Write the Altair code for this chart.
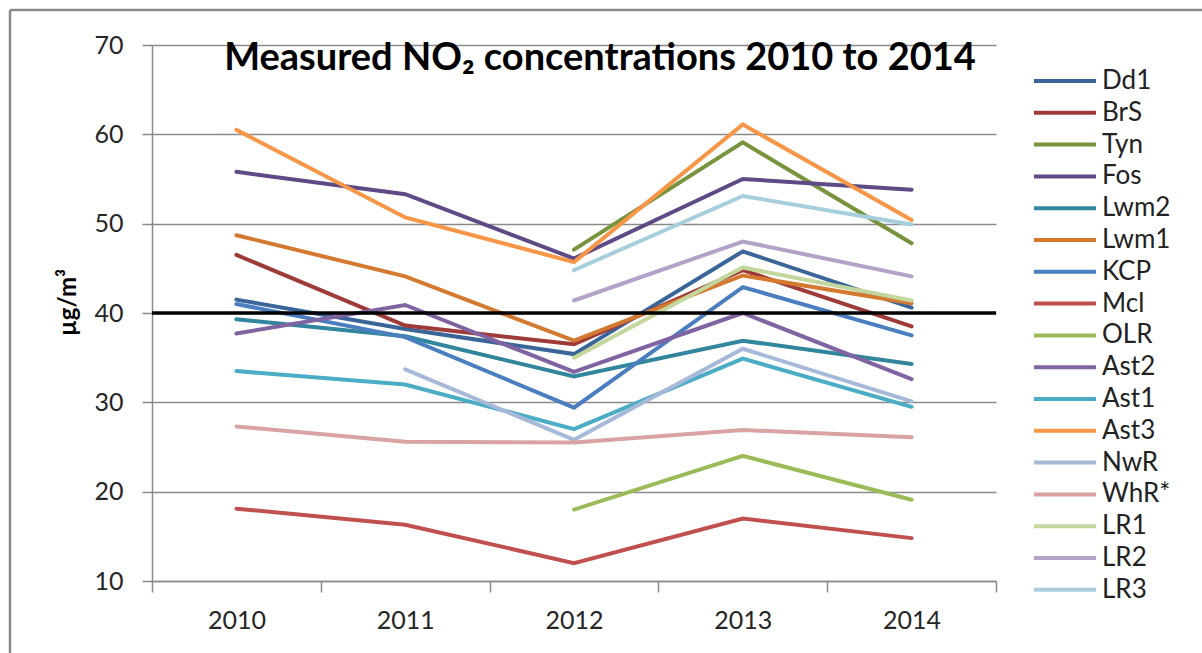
import altair as alt
import pandas as pd

years = [2010, 2011, 2012, 2013, 2014]
names = ["Dd1", "BrS", "Tyn", "Fos", "Lwm2", "Lwm1", "KCP", "Mcl", "OLR",
         "Ast2", "Ast1", "Ast3", "NwR", "WhR*", "LR1", "LR2", "LR3"]
colors = ["#3A6598", "#9E3B38", "#77933C", "#5F4A86", "#31859C", "#D47A30",
          "#4A7EBF", "#C0504D", "#9BBB59", "#8064A2", "#4BACC6", "#F79646",
          "#A7B9D8", "#D8A3A2", "#C3D69B", "#B3A2C7", "#A7CEDC"]

Dd1 = [41.5, 38.2, 35.4, 46.9, 40.6]
BrS = [46.5, 38.6, 36.5, 44.8, 38.5]
Tyn = [None, None, 47.1, 59.1, 47.8]
Fos = [55.8, 53.3, 46.1, 55.0, 53.8]
Lwm2 = [39.3, 37.4, 32.9, 36.9, 34.3]
Lwm1 = [48.7, 44.1, 36.9, 44.2, 41.1]
KCP = [41.0, 37.3, 29.4, 42.9, 37.5]
Mcl = [18.1, 16.3, 12.0, 17.0, 14.8]
OLR = [None, None, 18.0, 24.0, 19.1]
Ast2 = [37.7, 40.9, 33.4, 40.0, 32.6]
Ast1 = [33.5, 32.0, 27.0, 34.9, 29.5]
Ast3 = [60.5, 50.7, 45.7, 61.1, 50.4]
NwR = [None, 33.7, 25.8, 36.0, 30.1]
WhR = [27.3, 25.6, 25.5, 26.9, 26.1]
LR1 = [None, None, 35.0, 45.1, 41.4]
LR2 = [None, None, 41.4, 48.0, 44.1]
LR3 = [None, None, 44.8, 53.1, 49.9]
series = [Dd1, BrS, Tyn, Fos, Lwm2, Lwm1, KCP, Mcl, OLR,
          Ast2, Ast1, Ast3, NwR, WhR, LR1, LR2, LR3]
limit_value = [40]
y_ticks = [10, 20, 30, 40, 50, 60, 70]

rows = []
for i, (n, vals) in enumerate(zip(names, series)):
    for yr, v in zip(years, vals):
        if v is not None:
            rows.append({"site": n, "year": yr, "value": v, "k": i})
df = pd.DataFrame(rows)

x_values = [y - 0.5 for y in years] + [years[-1] + 0.5] + years
x_scale = alt.Scale(domain=[years[0] - 0.5, years[-1] + 0.5], nice=False, zero=False)
y_scale = alt.Scale(domain=[10, 70], nice=False, zero=False)
GRAY = "#8a8a8a"
FONT = "Lato"

x_axis = alt.Axis(
    values=x_values, grid=False, title=None,
    labelExpr="datum.value % 1 == 0 ? toString(datum.value) : ''",
    labelOverlap=False, tickSize=11, tickWidth=1.5, tickColor=GRAY,
    tickOpacity={"condition": {"test": "datum.value % 1 == 0", "value": 0}, "value": 1},
    domainColor=GRAY, domainWidth=1.5, labelFont=FONT, labelFontSize=25,
    labelColor="#262626", labelPadding=16,
)
y_axis = alt.Axis(
    values=y_ticks, grid=True, gridColor=GRAY, gridWidth=1.5,
    tickSize=10, tickWidth=1.5, tickColor=GRAY, domainColor=GRAY, domainWidth=1.5,
    labelFont=FONT, labelFontSize=25, labelColor="#262626", labelPadding=19,
    title="µg/m³", titleFont=FONT, titleFontSize=24, titleFontWeight="bold",
    titleColor="black", titleX=-84, titleY=257, titleAngle=270,
    titleAlign="center", titleBaseline="middle",
)

lines = alt.Chart(df).mark_line(strokeWidth=4, strokeCap="round", strokeJoin="miter").encode(
    x=alt.X("year:Q", scale=x_scale, axis=x_axis),
    y=alt.Y("value:Q", scale=y_scale, axis=y_axis),
    color=alt.Color(
        "site:N",
        scale=alt.Scale(domain=names, range=colors),
        sort=names,
        legend=alt.Legend(
            orient="none", legendX=900, legendY=23, title=None,
            symbolType="M-3,0H3", symbolSize=428, symbolStrokeWidth=4,
            labelFont=FONT, labelFontSize=26, labelColor="#222222",
            labelOffset=24, rowPadding=5.8, labelLimit=200,
        ),
    ),
    detail="k:O",
)

rule = alt.Chart(pd.DataFrame({"limit": limit_value})).mark_rule(
    color="black", strokeWidth=3.5
).encode(y=alt.Y("limit:Q", scale=y_scale))

frame_df = pd.DataFrame({"a": [0]})
frame_top = alt.Chart(frame_df).mark_rule(color=GRAY, strokeWidth=2.5).encode(
    x=alt.value(-142), x2=alt.value(1060), y=alt.value(-35)
)
frame_left = alt.Chart(frame_df).mark_rule(color=GRAY, strokeWidth=2.5).encode(
    x=alt.value(-142), y=alt.value(-35), y2=alt.value(620)
)

chart = alt.layer(frame_top, frame_left, lines, rule).properties(
    width=844, height=536,
    title=alt.TitleParams(
        text="Measured NO₂ concentrations 2010 to 2014", font=FONT, fontSize=38,
        fontWeight="bold", color="black", anchor="middle", dx=26,
        baseline="alphabetic", offset=-99,
    ),
    autosize=alt.AutoSizeParams(type="none"),
    padding={"left": 152, "top": 45, "right": 206, "bottom": 72},
    background="white",
).configure_view(stroke=None)

chart.save("out.html", embed_options={"renderer": "svg", "actions": False})
